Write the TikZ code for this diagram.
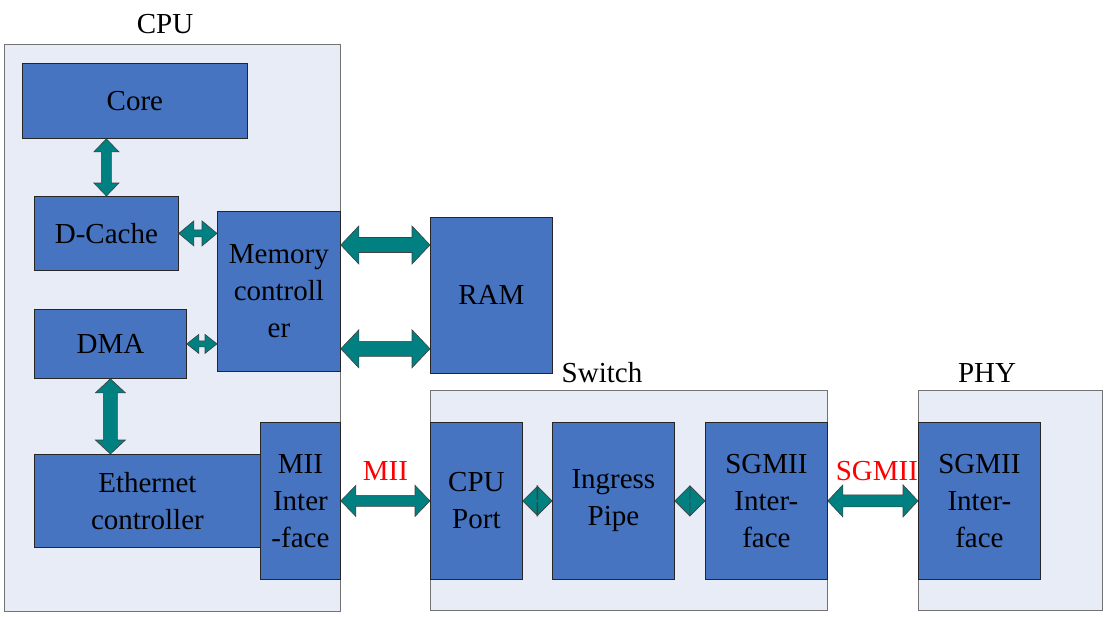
\documentclass[tikz,border=0pt]{standalone}
\usepackage{fontspec}
\setmainfont{Liberation Serif}
\usetikzlibrary{calc,positioning}
\definecolor{boxblue}{RGB}{70,116,193}
\definecolor{chipbg}{RGB}{231,236,246}
\definecolor{arrteal}{RGB}{0,128,128}
\tikzset{
  chip/.style={draw=black!55,fill=chipbg,anchor=north west,inner sep=0pt,line width=0.8pt},
  blk/.style={draw=black!85,fill=boxblue,anchor=north west,inner sep=0pt,align=center,line width=0.8pt},
  sig/.style={text=red},
  dbl/.style args={#1/#2/#3}{draw=black!75,fill=arrteal,line width=0.6pt,
    to path={let \p1=(\tikztostart),\p2=(\tikztotarget),\n1={atan2(\y2-\y1,\x2-\x1)} in
      -- ($(\p1)+(\n1:#3pt)+(\n1+90:#2pt)$) -- ($(\p1)+(\n1:#3pt)+(\n1+90:#1pt)$)
      -- ($(\p2)+(\n1+180:#3pt)+(\n1+90:#1pt)$) -- ($(\p2)+(\n1+180:#3pt)+(\n1+90:#2pt)$)
      -- (\p2)
      -- ($(\p2)+(\n1+180:#3pt)+(\n1-90:#2pt)$) -- ($(\p2)+(\n1+180:#3pt)+(\n1-90:#1pt)$)
      -- ($(\p1)+(\n1:#3pt)+(\n1-90:#1pt)$) -- ($(\p1)+(\n1:#3pt)+(\n1-90:#2pt)$)
      -- cycle}},
}

\begin{document}
\begin{tikzpicture}[x=1pt,y=-1pt,font=\fontsize{29}{37}\selectfont]
  \useasboundingbox (0,0) rectangle (1106,616);
  % chips
  \node[chip,minimum width=336pt,minimum height=567pt] (cpu) at (4,44) {};
  \node[chip,minimum width=397pt,minimum height=220pt] (switch) at (430,390) {};
  \node[chip,minimum width=184pt,minimum height=220pt] (phy) at (918,390) {};
  \node (cpulbl) at (165,24) {CPU};
  \node (swlbl) at (602,373) {Switch};
  \node (phylbl) at (987,373) {PHY};
  % CPU blocks
  \node[blk,minimum width=225pt,minimum height=75pt] (core) at (22,63) {Core};
  \node[blk,minimum width=144pt,minimum height=74pt] (dcache) at (34,196) {D-Cache};
  \node[blk,minimum width=123pt,minimum height=160pt] (memctl) at (217,211) {Memory\\controll\\er};
  \node[blk,minimum width=152pt,minimum height=69pt] (dma) at (34,309) {DMA};
  \node[blk,minimum width=226pt,minimum height=93pt] (eth) at (34,454) {Ethernet\\controller};
  \node[blk,minimum width=80pt,minimum height=157pt] (mii) at (260,422) {MII\\Inter\\-face};
  \node[blk,minimum width=122pt,minimum height=156pt] (ram) at (430,217) {RAM};
  % switch and phy blocks
  \node[blk,minimum width=92pt,minimum height=157pt] (cpuport) at (430,422) {CPU\\Port};
  \node[blk,minimum width=122pt,minimum height=157pt,right=29.2pt of cpuport] (ingress) {Ingress\\Pipe};
  \node[blk,minimum width=122pt,minimum height=157pt,right=30.2pt of ingress] (sgmsw) {SGMII\\Inter-\\face};
  \node[blk,minimum width=122pt,minimum height=157pt,right=90.2pt of sgmsw] (sgmphy) {SGMII\\Inter-\\face};
  \coordinate (memup) at ([yshift=-34pt]memctl.north east);
  \coordinate (memdn) at ([yshift=23pt]memctl.south east);
  % links
  \draw[dbl=5/12.5/13] (core.south -| dcache.north) to (dcache.north);
  \draw[dbl=3.5/12.5/15] (dcache.east) to (dcache.east -| memctl.west);
  \draw[dbl=3/9.5/12] (dma.east) to (dma.east -| memctl.west);
  \draw[dbl=7/15/14] (dma.south) to (dma.south |- eth.north);
  \draw[dbl=7.5/19/18] (memup) to (memup -| ram.west);
  \draw[dbl=7.5/19/18] (memdn) to (memdn -| ram.west);
  \draw[dbl=5.5/15.5/15] (mii.east) to (cpuport.west);
  \draw[dbl=1.5/15/15] (cpuport.east) to (ingress.west);
  \draw[dbl=1.5/15/15] (ingress.east) to (sgmsw.west);
  \draw[dbl=6/16/15] (sgmsw.east) to (sgmphy.west);
  \node[sig] (miisig) at ($(mii.east)!0.5!(cpuport.west)+(0,-30)$) {MII};
  \node[sig] (sgmsig) at ($(sgmsw.east)!0.5!(sgmphy.west)+(4,-30)$) {SGMII};
\end{tikzpicture}
\end{document}
